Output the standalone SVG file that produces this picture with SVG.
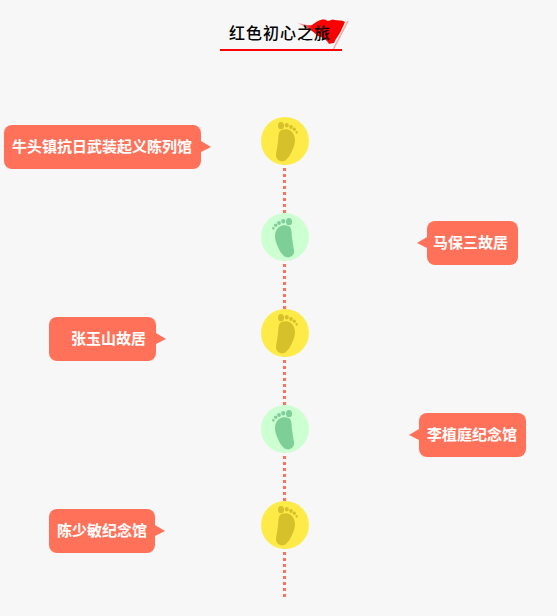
<svg xmlns="http://www.w3.org/2000/svg" width="557" height="616" viewBox="0 0 557 616">
<style>
text{font-family:"Noto Sans CJK SC","Liberation Sans",sans-serif}
.bubble{fill:#ff7159}
.label{font-size:15px;font-weight:700;fill:#fff}
.title{font-size:16px;font-weight:500;fill:#000;letter-spacing:1px}
.conn{stroke:#ff7159;stroke-width:3;stroke-dasharray:3 3;fill:none}
.yc{fill:#ffeb47}.yf{fill:#d6c12a}
.gc{fill:#ccffd2}.gf{fill:#7dcf97}
</style>
<defs>
<linearGradient id="flagfade" x1="0" y1="0" x2="1" y2="0">
<stop offset="0" stop-color="#ff0000" stop-opacity="0"/>
<stop offset="0.35" stop-color="#ff0000"/>
<stop offset="1" stop-color="#f80000"/>
</linearGradient>
<g id="foot">
<ellipse cx="-4" cy="-15.300" rx="3" ry="3.600"/>
<ellipse cx="1.700" cy="-15.700" rx="2" ry="2.300"/>
<ellipse cx="6" cy="-14" rx="1.900" ry="2.100"/>
<ellipse cx="9.300" cy="-11.700" rx="1.700" ry="1.800"/>
<ellipse cx="11.700" cy="-8.700" rx="1.200" ry="1.400"/>
<path d="M-5-10.300C-2-11.500 1-12 3-11.500C7-10.500 10-6 10-1C10 3 8.500 7 6.700 10.700C5 14 3.500 17 1 19C-1 20.500-3.500 20.800-5 20C-7.800 18.800-9.300 16.500-9 14C-8.800 11-8 8-7.700 5.700C-7.300 2.500-6.800 0-6.700-2.700C-6.700-5-6.300-8-5-10.300Z"/>
</g>
</defs>
<rect width="557" height="616" fill="#f7f7f7"/>
<g id="connectors">
<line class="conn" x1="284.500" y1="138" x2="284.500" y2="597"/>
</g>
<g id="title">
<path d="M295 22C303 24 308 26 312 25C316 22 320 19 325 19.500L328 21L333 19.500C337 21 341 19.500 345 22L341 31C339 35 336 38 334 43C331 43 330 44 329 44C327 40 323 37 318 36C313 31 305 26 295 22Z" fill="url(#flagfade)"/>
<path d="M348 21L333 50" stroke="#f7a5a5" stroke-width="1.500" fill="none"/>
<text class="title" x="229" y="39">红色初心之旅</text>
<rect x="220" y="49" width="122" height="2" fill="#f00"/>
</g>
<g id="node-1">
<rect class="bubble" x="4" y="125" width="197" height="44" rx="8"/>
<path class="bubble" d="M201 141L211 147L201 152Z"/>
<text class="label" x="12" y="152">牛头镇抗日武装起义陈列馆</text>
<circle class="yc" cx="285" cy="141" r="24"/>
<use href="#foot" x="285" y="141" class="yf"/>
</g>
<g id="node-2">
<rect class="bubble" x="427" y="221" width="91" height="44" rx="8"/>
<path class="bubble" d="M427 237L417 243L427 248Z"/>
<text class="label" x="433" y="248">马保三故居</text>
<circle class="gc" cx="285" cy="237" r="24"/>
<use href="#foot" transform="translate(285 237) scale(-1 1)" class="gf"/>
</g>
<g id="node-3">
<rect class="bubble" x="49" y="317" width="107" height="44" rx="8"/>
<path class="bubble" d="M156 333L166 339L156 344Z"/>
<text class="label" x="71" y="344">张玉山故居</text>
<circle class="yc" cx="285" cy="333" r="24"/>
<use href="#foot" x="285" y="333" class="yf"/>
</g>
<g id="node-4">
<rect class="bubble" x="419" y="413" width="107" height="44" rx="8"/>
<path class="bubble" d="M419 429L409 435L419 440Z"/>
<text class="label" x="427" y="440">李植庭纪念馆</text>
<circle class="gc" cx="285" cy="429" r="24"/>
<use href="#foot" transform="translate(285 429) scale(-1 1)" class="gf"/>
</g>
<g id="node-5">
<rect class="bubble" x="49" y="509" width="106" height="44" rx="8"/>
<path class="bubble" d="M155 525L165 531L155 536Z"/>
<text class="label" x="57" y="536">陈少敏纪念馆</text>
<circle class="yc" cx="285" cy="525" r="24"/>
<use href="#foot" x="285" y="525" class="yf"/>
</g>
</svg>
